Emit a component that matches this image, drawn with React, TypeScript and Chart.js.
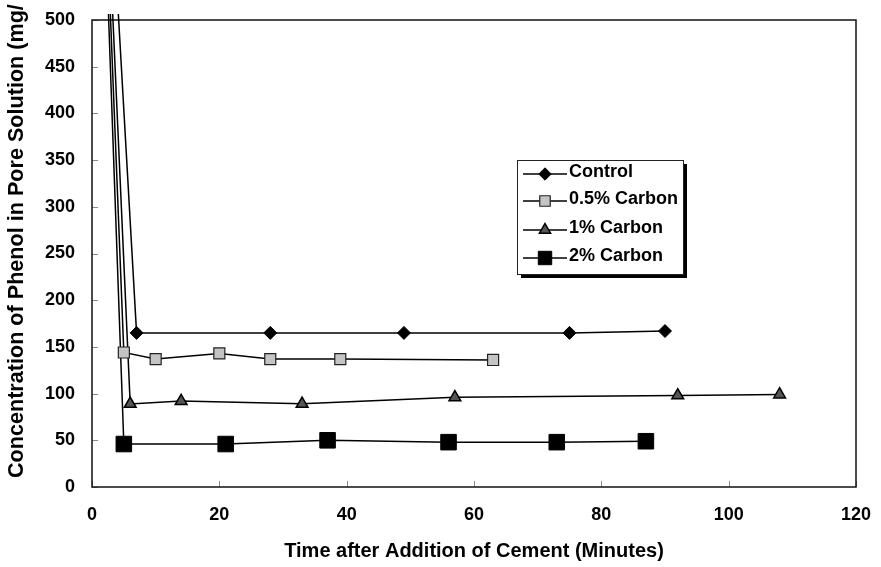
import React, { useEffect, useRef } from "react";
import { Chart, registerables } from "chart.js";

Chart.register(...registerables);

const seriesNames = ["Control", "0.5% Carbon", "1% Carbon", "2% Carbon"];
const controlX = [0, 7, 28, 49, 75, 90];
const controlY = [1000, 165, 165, 165, 165, 167];
const carbon05X = [0, 5, 10, 20, 28, 39, 63];
const carbon05Y = [1000, 144, 137, 143, 137, 137, 136];
const carbon1X = [0, 6, 14, 33, 57, 92, 108];
const carbon1Y = [1000, 89, 92, 89, 96, 98, 99];
const carbon2X = [0, 5, 21, 37, 56, 73, 87];
const carbon2Y = [1000, 46, 46, 50, 48, 48, 49];

const xMin = 0, xMax = 120, xStep = 20;
const yMin = 0, yMax = 500, yStep = 50;
const xTitle = "Time after Addition of Cement (Minutes)";
const yTitle = "Concentration of Phenol in Pore Solution (mg/";

const FONT = 'Arial, "Liberation Sans", sans-serif';

const toPoints = (xs: number[], ys: number[]) => xs.map((x, i) => ({ x, y: ys[i] }));

type MarkerStyle = { style: string; radius: number; fill: string; stroke: string; bw: number };
const markers: MarkerStyle[] = [
  { style: "rectRot", radius: 6.5, fill: "#000", stroke: "#000", bw: 1 },
  { style: "rect", radius: 7.8, fill: "#c4c4c4", stroke: "#222", bw: 1.2 },
  { style: "triangle", radius: 6.8, fill: "#555", stroke: "#000", bw: 1.5 },
  { style: "rect", radius: 11, fill: "#000", stroke: "#000", bw: 1 },
];

function drawMarker(ctx: CanvasRenderingContext2D, m: MarkerStyle, x: number, y: number) {
  ctx.save();
  ctx.beginPath();
  const r = m.radius;
  if (m.style === "rectRot") {
    ctx.moveTo(x, y - r); ctx.lineTo(x + r, y); ctx.lineTo(x, y + r); ctx.lineTo(x - r, y); ctx.closePath();
  } else if (m.style === "rect") {
    const s = r * Math.SQRT1_2;
    ctx.rect(x - s, y - s, 2 * s, 2 * s);
  } else {
    ctx.moveTo(x, y - r);
    ctx.lineTo(x + r * Math.sin((2 * Math.PI) / 3), y - r * Math.cos((2 * Math.PI) / 3));
    ctx.lineTo(x + r * Math.sin((4 * Math.PI) / 3), y - r * Math.cos((4 * Math.PI) / 3));
    ctx.closePath();
  }
  ctx.fillStyle = m.fill; ctx.fill();
  ctx.lineWidth = m.bw; ctx.strokeStyle = m.stroke; ctx.stroke();
  ctx.restore();
}

const framePlugin = {
  id: "frame",
  beforeDatasetsDraw(chart: any) {
    const { ctx, chartArea: a, scales } = chart;
    ctx.save();
    ctx.strokeStyle = "#8a8a8a";
    ctx.lineWidth = 1;
    scales.y.ticks.forEach((t: any) => {
      const y = Math.round(scales.y.getPixelForValue(t.value)) + 0.5;
      ctx.beginPath(); ctx.moveTo(a.left, y); ctx.lineTo(a.left + 6, y); ctx.stroke();
    });
    scales.x.ticks.forEach((t: any) => {
      const x = Math.round(scales.x.getPixelForValue(t.value)) + 0.5;
      ctx.beginPath(); ctx.moveTo(x, a.bottom); ctx.lineTo(x, a.bottom - 6); ctx.stroke();
    });
    ctx.strokeStyle = "#111";
    ctx.lineWidth = 1.5;
    ctx.strokeRect(a.left, a.top, a.right - a.left, a.bottom - a.top);
    ctx.restore();
  },
  afterDraw(chart: any) {
    const { ctx } = chart;
    // y axis title
    ctx.save();
    ctx.translate(17, 478);
    ctx.rotate(-Math.PI / 2);
    ctx.font = `bold 21.6px ${FONT}`;
    ctx.fillStyle = "#000";
    ctx.textAlign = "left";
    ctx.textBaseline = "middle";
    ctx.fillText(yTitle, 0, 0);
    ctx.restore();

    // legend
    const bx = 517, by = 160, bw = 166, bh = 114;
    ctx.save();
    ctx.fillStyle = "#000";
    ctx.fillRect(bx + 4, by + 4, bw, bh);
    ctx.fillStyle = "#fff";
    ctx.fillRect(bx, by, bw, bh);
    ctx.strokeStyle = "#222";
    ctx.lineWidth = 1;
    ctx.strokeRect(bx + 0.5, by + 0.5, bw, bh);
    const rows = [174, 201, 230, 258];
    chart.data.datasets.forEach((ds: any, i: number) => {
      const y = rows[i];
      ctx.strokeStyle = "#000";
      ctx.lineWidth = 1.5;
      ctx.beginPath(); ctx.moveTo(523, y); ctx.lineTo(567, y); ctx.stroke();
      const m = markers[i];
      drawMarker(ctx, { ...m, radius: i === 3 ? 9.5 : m.radius * 0.95 }, 545, y);
      ctx.fillStyle = "#000";
      ctx.font = `bold 18px ${FONT}`;
      ctx.textAlign = "left";
      ctx.textBaseline = "middle";
      ctx.fillText(ds.label, 569, y - 2);
    });
    ctx.restore();
  },
};

export default function App() {
  const ref = useRef<HTMLCanvasElement | null>(null);
  useEffect(() => {
    document.body.style.margin = "0";
    document.body.style.overflow = "hidden";
    if (!ref.current) return;
    const series = [
      toPoints(controlX, controlY),
      toPoints(carbon05X, carbon05Y),
      toPoints(carbon1X, carbon1Y),
      toPoints(carbon2X, carbon2Y),
    ];
    const chart = new Chart(ref.current, {
      type: "line",
      data: {
        datasets: series.map((data, i) => ({
          label: seriesNames[i],
          data,
          borderColor: "#000",
          borderWidth: 1.5,
          tension: 0,
          fill: false,
          pointStyle: markers[i].style as any,
          pointRadius: markers[i].radius,
          pointBackgroundColor: markers[i].fill,
          pointBorderColor: markers[i].stroke,
          pointBorderWidth: markers[i].bw,
          clip: { left: 10, right: 10, top: 6, bottom: 10 } as any,
        })),
      },
      plugins: [framePlugin],
      options: {
        animation: false,
        responsive: false,
        layout: { padding: { left: 0, top: 20, right: 25, bottom: 0 } },
        plugins: { legend: { display: false }, tooltip: { enabled: false } },
        scales: {
          x: {
            type: "linear",
            min: xMin,
            max: xMax,
            grid: { display: false, drawTicks: false },
            border: { display: false },
            ticks: { stepSize: xStep, padding: 17, color: "#000", font: { family: FONT, size: 18, weight: "bold" } },
            title: { display: true, text: xTitle, color: "#000", padding: { top: 0, bottom: 4 }, font: { family: FONT, size: 20, weight: "bold" } },
            afterFit: (s: any) => { s.height = 80; s.paddingLeft = 0; s.paddingRight = 0; },
          },
          y: {
            type: "linear",
            min: yMin,
            max: yMax,
            grid: { display: false, drawTicks: false },
            border: { display: false },
            ticks: { stepSize: yStep, padding: 17, color: "#000", font: { family: FONT, size: 18, weight: "bold" } },
            afterFit: (s: any) => { s.width = 92; s.paddingTop = 0; s.paddingBottom = 0; },
          },
        },
      } as any,
    });
    return () => chart.destroy();
  }, []);
  return <canvas ref={ref} width={881} height={567} style={{ display: "block" }} />;
}
